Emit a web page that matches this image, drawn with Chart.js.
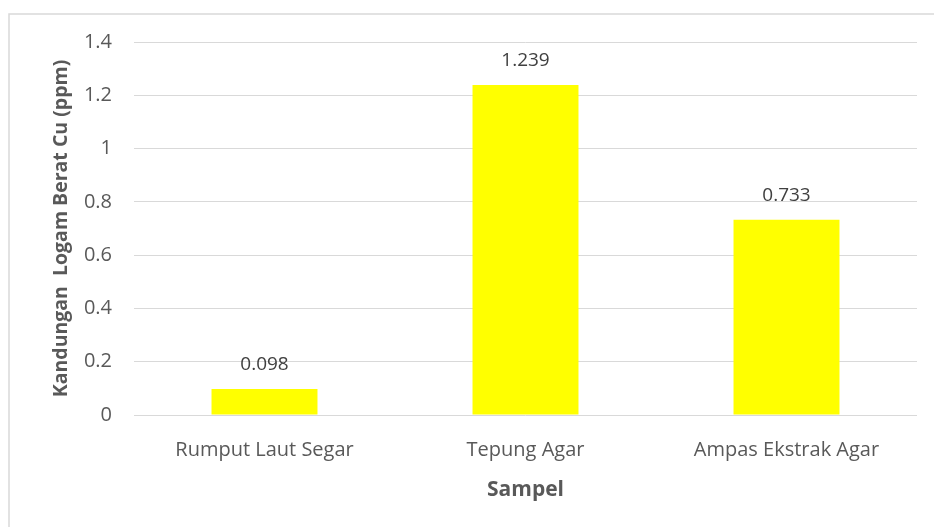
<!DOCTYPE html>
<html>
<head>
<meta charset="utf-8">
<script src="https://cdn.jsdelivr.net/npm/chart.js@4"></script>
<style>
  html, body { margin: 0; padding: 0; background: #fff; }
  #wrap { position: relative; width: 934px; height: 527px; }
</style>
</head>
<body>
<div id="wrap"><canvas id="c" width="934" height="527"></canvas></div>
<script>
const categories = ['Rumput Laut Segar', 'Tepung Agar', 'Ampas Ekstrak Agar'];
const cuValues = [0.098, 1.239, 0.733];
const yTicks = [0, 0.2, 0.4, 0.6, 0.8, 1, 1.2, 1.4];

const FONT = "'Open Sans', 'Noto Sans', sans-serif";

// light frame around the whole chart
const framePlugin = {
  id: 'frame',
  beforeDraw(chart) {
    const ctx = chart.ctx;
    ctx.save();
    ctx.fillStyle = '#fff';
    ctx.fillRect(0, 0, chart.width, chart.height);
    ctx.strokeStyle = '#d9d9d9';
    ctx.lineWidth = 1.5;
    ctx.strokeRect(9, 14, chart.width + 20, chart.height + 20);
    ctx.restore();
  }
};

// value labels above each bar
const valueLabels = {
  id: 'valueLabels',
  afterDatasetsDraw(chart) {
    const ctx = chart.ctx;
    const meta = chart.getDatasetMeta(0);
    ctx.save();
    ctx.font = '19px ' + FONT;
    ctx.fillStyle = '#404040';
    ctx.textAlign = 'center';
    ctx.textBaseline = 'middle';
    meta.data.forEach((bar, i) => {
      ctx.fillText(String(cuValues[i]), bar.x, bar.y - 24);
    });
    ctx.restore();
  }
};

new Chart(document.getElementById('c'), {
  type: 'bar',
  data: {
    labels: categories,
    datasets: [{
      data: cuValues,
      backgroundColor: '#ffff00',
      borderWidth: 0,
      categoryPercentage: 1,
      barPercentage: 0.406
    }]
  },
  options: {
    responsive: false,
    animation: false,
    layout: { padding: { left: 0, right: 17, top: 42, bottom: 0 } },
    plugins: { legend: { display: false }, tooltip: { enabled: false } },
    scales: {
      x: {
        grid: { display: false, drawTicks: false },
        border: { display: false },
        ticks: { color: '#595959', font: { family: FONT, size: 20 }, padding: 23, maxRotation: 0 },
        title: { display: true, text: 'Sampel', color: '#595959',
                 font: { family: FONT, size: 21, weight: 'bold' }, padding: { top: 0, bottom: 24 } },
        afterFit(scale) { scale.height = 112; }
      },
      y: {
        min: 0, max: 1.4,
        afterBuildTicks(scale) { scale.ticks = yTicks.map(v => ({ value: v })); },
        grid: { color: '#d9d9d9', lineWidth: 1, drawTicks: false },
        border: { display: false },
        ticks: { color: '#595959', font: { family: FONT, size: 20 }, padding: 22,
                 callback: v => String(v) },
        title: { display: true, text: 'Kandungan  Logam Berat Cu (ppm)', color: '#595959',
                 font: { family: FONT, size: 19.5, weight: 'bold' }, padding: { top: 50, bottom: 0 } },
        afterFit(scale) { scale.width = 134; }
      }
    }
  },
  plugins: [framePlugin, valueLabels]
});
</script>
</body>
</html>
